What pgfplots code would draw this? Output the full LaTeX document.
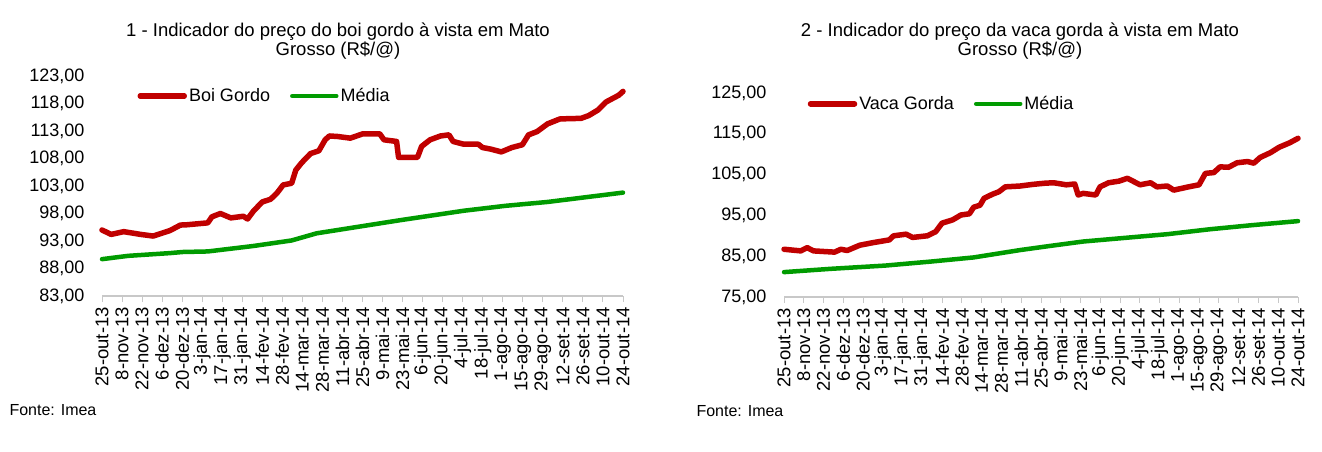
\documentclass[border=0pt]{standalone}
\usepackage{pgfplots}
\pgfplotsset{compat=1.18}
\usepackage{fontspec}
\setmainfont{Liberation Sans}
\definecolor{vermelho}{RGB}{192,0,0}
\definecolor{verde}{RGB}{0,155,0}
\definecolor{eixo}{RGB}{200,200,200}

\pgfplotsset{
  meustyle/.style={
    scale only axis,
    clip=false,
    axis lines*=left,
    y axis line style={draw=none},
    x axis line style={eixo, line width=1.2pt},
    ytick style={draw=none},
    xtick style={eixo, line width=1pt},
    tick align=outside,
    major tick length=6pt,
    xmin=0, xmax=364,
    xtick={0,14,...,364},
    xticklabels={25-out-13,8-nov-13,22-nov-13,6-dez-13,20-dez-13,3-jan-14,17-jan-14,31-jan-14,14-fev-14,28-fev-14,14-mar-14,28-mar-14,11-abr-14,25-abr-14,9-mai-14,23-mai-14,6-jun-14,20-jun-14,4-jul-14,18-jul-14,1-ago-14,15-ago-14,29-ago-14,12-set-14,26-set-14,10-out-14,24-out-14},
    xticklabel style={rotate=90, anchor=east, font=\fontsize{18.5}{20}\selectfont, inner sep=5pt},
    yticklabel style={font=\fontsize{18}{20}\selectfont, xshift=-8pt},
    /pgf/number format/.cd, fixed, fixed zerofill, precision=2, use comma, 1000 sep={}, assume math mode=true,
    /pgfplots/.cd,
    legend columns=2,
    legend style={draw=none, fill=none, font=\fontsize{18}{20}\selectfont, anchor=west,
      /tikz/every even column/.append style={column sep=18pt}},
    legend image code/.code={\draw[#1] (0pt,0pt) -- (44pt,0pt);},
  },
  serie/.style={line width=5.5pt, line join=round, line cap=round},
}

\begin{document}
\begin{tikzpicture}[x=1pt,y=1pt]
\path[use as bounding box] (0,0) rectangle (1322,451);

% ---------- Chart 1 ----------
\node[align=center, font=\fontsize{18.5}{19.5}\selectfont] at (338,410) {1 - Indicador do preço do boi gordo à vista em Mato\\Grosso (R\$/@)};
\begin{axis}[meustyle, at={(102pt,155pt)}, anchor=south west,
  width=521pt, height=220pt,
  ymin=83, ymax=123, ytick={83,88,...,123},
  legend style={at={(0.062,0.909)}}]
\addplot[serie, vermelho] coordinates {
(0,95.0) (6.4,94.2) (15.2,94.7) (27,94.2) (35.8,93.9) (41.6,94.4) (47.5,94.9)
(54.8,95.9) (59.2,95.95) (73.9,96.3) (76.8,97.4) (82.7,98.0) (90,97.2) (98.8,97.5)
(101.7,97.0) (106,98.5) (112,100.1) (117.8,100.6) (122.2,101.7) (126.6,103.2)
(132.5,103.5) (135.4,105.9) (139.4,107.2) (145.7,108.9) (151.5,109.4) (155.9,111.4)
(158.9,112.1) (164.7,112.0) (173.5,111.7) (182.3,112.5) (194,112.5) (197,111.4)
(205.8,111.1) (207.2,108.2) (220.4,108.2) (223.3,110.2) (229.2,111.4) (236.5,112.1)
(242.4,112.3) (245.3,111.1) (252.7,110.6) (262.9,110.6) (265.8,110.0) (271.7,109.7)
(279,109.2) (286.4,110.0) (293.7,110.5) (298,112.3) (304,112.9) (311.3,114.3)
(320,115.2) (334.7,115.3) (340,115.8) (346.4,116.8) (352.3,118.3) (361,119.5) (364,120.2)
};
\addlegendentry{Boi Gordo}
\addplot[serie, verde, line width=4.5pt] coordinates {
(0,89.7) (18.2,90.3) (47.5,90.8) (56.3,91.0) (73.9,91.1) (106,92.1) (132.5,93.1)
(150,94.4) (164.7,95.0) (208.7,96.8) (252.7,98.5) (282,99.4) (311.3,100.1) (364,101.8)
};
\addlegendentry{Média}
\end{axis}
\node[anchor=west, font=\fontsize{16}{18}\selectfont] at (6,41) {Fonte: Imea};

% ---------- Chart 2 ----------
\node[align=center, font=\fontsize{18.5}{19.5}\selectfont] at (1020,410) {2 - Indicador do preço da vaca gorda à vista em Mato\\Grosso (R\$/@)};
\begin{axis}[meustyle, at={(784pt,154pt)}, anchor=south west,
  width=514pt, height=204pt,
  ymin=75, ymax=125, ytick={75,85,...,125},
  legend style={at={(0.040,0.947)}}]
\addplot[serie, vermelho] coordinates {
(0,86.7) (11.9,86.3) (16.4,87.1) (20.9,86.3) (35.8,86.0) (40.3,86.7) (44.8,86.4)
(53.7,87.7) (62.7,88.3) (74.6,89.0) (77.6,90.0) (86.5,90.4) (91,89.6) (101.5,90.0)
(107.4,91.0) (111.9,93.1) (119.4,93.9) (125.3,95.1) (131.3,95.4) (134.3,97.0)
(138.8,97.5) (141.7,99.2) (147.7,100.2) (152.2,100.8) (156.7,102.0) (167.1,102.2)
(176.1,102.6) (185,102.9) (191,103.0) (199.9,102.5) (205.9,102.7) (208.3,100.0)
(211.9,100.4) (220.8,100.0) (223.8,102.0) (229.8,103.0) (237.2,103.4) (243.2,104.1)
(252.1,102.5) (259.6,103.0) (264.1,102.0) (271.5,102.2) (276,101.2) (286.5,102.0)
(293.9,102.5) (298.4,105.3) (304.4,105.5) (308.8,106.9) (314.8,106.8) (320.8,107.9)
(328.2,108.2) (332.7,107.8) (337.2,109.2) (344.6,110.4) (350.6,111.7) (358.1,112.8) (364,113.9)
};
\addlegendentry{Vaca Gorda}
\addplot[serie, verde, line width=4.5pt] coordinates {
(0,81.1) (32.8,81.9) (71.6,82.7) (104.4,83.7) (134.3,84.7) (167.1,86.5) (188,87.5)
(211.9,88.6) (241.7,89.5) (271.5,90.4) (301.4,91.6) (331.2,92.6) (364,93.6)
};
\addlegendentry{Média}
\end{axis}
\node[anchor=west, font=\fontsize{16}{18}\selectfont] at (693,40) {Fonte: Imea};
\end{tikzpicture}
\end{document}
